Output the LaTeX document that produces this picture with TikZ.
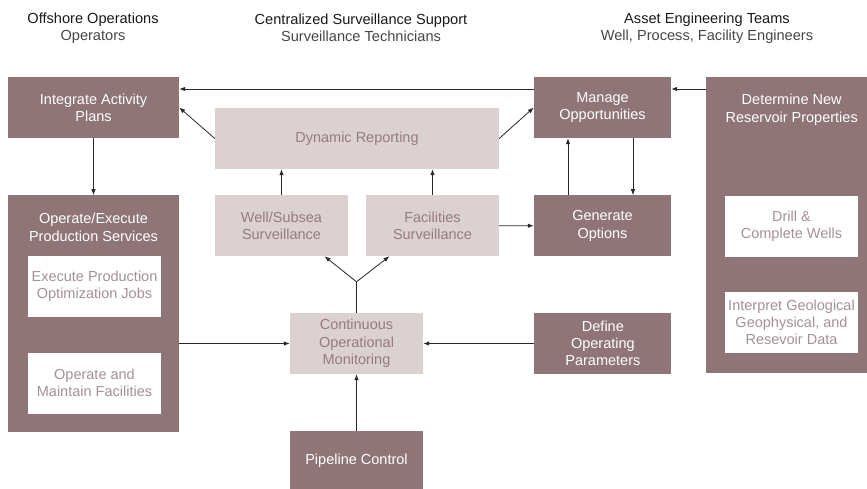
\documentclass[tikz,border=0pt]{standalone}
\usepackage{fontspec}
\setmainfont{Liberation Sans}
\usepackage{tikz}
\usetikzlibrary{arrows.meta,positioning}

\definecolor{boxdark}{RGB}{143,117,119}
\definecolor{boxlight}{RGB}{219,209,208}
\definecolor{textmauve}{RGB}{150,124,127}
\definecolor{textpale}{RGB}{165,145,148}
\definecolor{headgray}{RGB}{70,70,70}
\definecolor{linegray}{RGB}{40,40,40}

\begin{document}
\begin{tikzpicture}[
        x=1pt, y=-1pt,
        >={Latex[length=6pt,width=4.5pt]},
        node distance=57pt and 111pt,
        every node/.style={align=center, inner sep=0pt, font=\fontsize{14.5}{17.3}\selectfont},
        darkbox/.style={fill=boxdark, text=white, minimum height=61pt},
        lightbox/.style={fill=boxlight, text=textmauve, minimum height=61pt, minimum width=133pt},
        whitebox/.style={fill=white, text=textpale, minimum height=61pt, minimum width=133pt},
        header/.style={font=\fontsize{14.6}{17}\selectfont, text=black!90},
        link/.style={draw=linegray, line width=0.8pt}
        ]
        \clip (0,0) rectangle (867,489);

        % headers
        \node[header] (hoffshore) at (93,28) {Offshore Operations\\\textcolor{headgray}{Operators}};
        \node[header] (hcentral) at (361,28) {Centralized Surveillance Support\\\textcolor{headgray}{Surveillance Technicians}};
        \node[header] (hasset) at (707,28) {Asset Engineering Teams\\\textcolor{headgray}{Well, Process, Facility Engineers}};

        % left column
        \node[darkbox, minimum width=171pt] (integrate) at (93.5,107.5) {Integrate Activity\\Plans};
        \node[darkbox, minimum width=171pt, minimum height=237pt] (operate) [below=of integrate] {};
        \node[text=white, anchor=north] (operatetitle) at ([yshift=-18pt]operate.north) {Operate/Execute\\Production Services};
        \node[whitebox] (execjobs) at (94.5,286.5) {Execute Production\\Optimization Jobs};
        \node[whitebox] (maintain) at (94.5,383) {Operate and\\Maintain Facilities};

        % middle column
        \node[lightbox, minimum width=284pt] (dynamic) at (357,138.5) {Dynamic Reporting};
        \node[lightbox] (well) at (281.5,225.5) {Well/Subsea\\Surveillance};
        \node[lightbox] (facilities) at (432.5,225.5) {Facilities\\Surveillance};
        \node[lightbox] (monitoring) at (356.5,343.5) {Continuous\\Operational\\Monitoring};
        \node[darkbox, minimum width=133pt, minimum height=58pt] (pipeline) [below=of monitoring] {Pipeline Control};
        \coordinate (fork) at ([yshift=31pt]monitoring.north);

        % right columns
        \node[darkbox, minimum width=137pt] (manage) at (602.5,107.5) {Manage\\Opportunities};
        \node[darkbox, minimum width=137pt] (generate) [below=of manage] {Generate\\Options};
        \node[darkbox, minimum width=137pt] (define) [right=of monitoring] {Define\\Operating\\Parameters};

        \node[darkbox, minimum width=171pt, minimum height=296pt, anchor=north west] (determine) at (706,77) {};
        \node[text=white, anchor=north] (determinetitle) at ([yshift=-17pt]determine.north) {Determine New\\Reservoir Properties};
        \node[whitebox] (drill) at (791.5,226.5) {Drill \&\\Complete Wells};
        \node[whitebox] (interpret) at (791.5,322.5) {Interpret Geological\\Geophysical, and\\Resevoir Data};


        % Edges
        \draw[link, ->] ([yshift=18.5pt]manage.west) -- ([yshift=18.5pt]integrate.east);
        \draw[link, ->] ([yshift=-12pt]determine.north west) -- ([yshift=18.5pt]manage.east);
        \draw[link, ->] (dynamic.west) -- (integrate.east);
        \draw[link, ->] (dynamic.east) -- (manage.west);
        \draw[link, ->] (integrate) -- (operate);

        \draw[link, ->] (well) -- (well |- dynamic.south);
        \draw[link, ->] (facilities) -- (facilities |- dynamic.south);
        \draw[link, ->] (facilities) -- (generate);

        \draw[link, ->] ([xshift=-34.5pt]generate.north) -- ([xshift=-34.5pt]manage.south);
        \draw[link, ->] ([xshift=30.5pt]manage.south) -- ([xshift=30.5pt]generate.north);

        \draw[link] (monitoring.north) -- (fork);
        \draw[link, ->] (fork) -- ([xshift=43pt]well.south);
        \draw[link, ->] (fork) -- ([xshift=-43pt]facilities.south);

        \draw[link, ->] (operate.east |- monitoring.west) -- (monitoring.west);
        \draw[link, ->] (define) -- (monitoring);
        \draw[link, ->] (pipeline) -- (monitoring);

      \end{tikzpicture}
\end{document}
